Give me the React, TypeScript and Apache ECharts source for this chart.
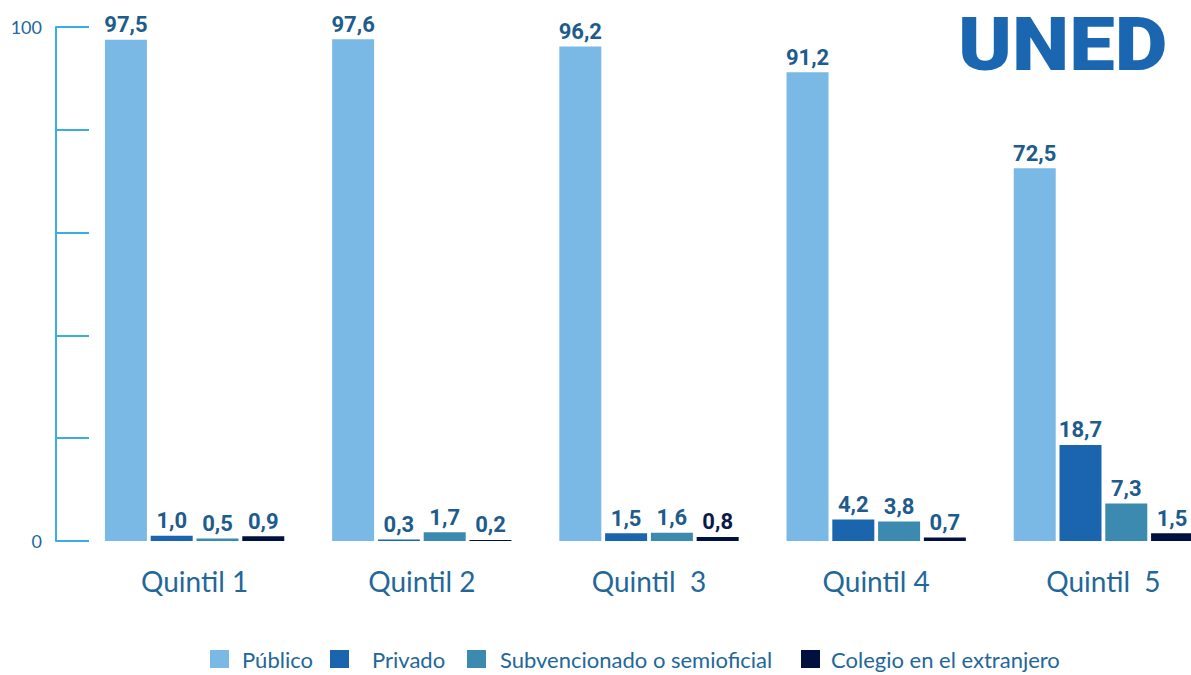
import React, { useEffect, useRef } from "react";
import * as echarts from "echarts";

const categories = ["Quintil 1", "Quintil 2", "Quintil  3", "Quintil 4", "Quintil  5"];
const seriesNames = ["Público", "Privado", "Subvencionado o semioficial", "Colegio en el extranjero"];
const publico = [97.5, 97.6, 96.2, 91.2, 72.5];
const privado = [1.0, 0.3, 1.5, 4.2, 18.7];
const subvencionado = [0.5, 1.7, 1.6, 3.8, 7.3];
const extranjero = [0.9, 0.2, 0.8, 0.7, 1.5];

const colors = ["#7ab9e5", "#1a65ae", "#3d8ab0", "#00113f"];
const labelColor = "#1d5c8c";
const textColor = "#23679a";

export default function App() {
  const ref = useRef<HTMLDivElement>(null);
  useEffect(() => {
    if (!ref.current) return;
    const chart = echarts.init(ref.current, undefined, { renderer: "svg" });
    const allValues = [publico, privado, subvencionado, extranjero];
    const fmt = (p: any) => Number(p.value).toFixed(1).replace(".", ",");
    const series = allValues.map((vals, si) => ({
      name: seriesNames[si],
      type: "bar",
      barWidth: 42,
      barGap: "9%",
      itemStyle: { color: colors[si] },
      data: vals.map((v, ci) =>
        si === 3 && ci === 2
          ? { value: v, label: { color: "#0b1a48" } }
          : v
      ),
      label: {
        show: true,
        position: "top",
        distance: 4,
        formatter: fmt,
        fontFamily: "Roboto",
        fontWeight: "bold",
        fontSize: 22,
        color: labelColor,
      },
    }));
    const legendLefts = [210, 330, 467, 801];
    const legendPads = [8, 18, 9, 6];
    chart.setOption({
      animation: false,
      grid: { left: 81, right: 13, top: 27, bottom: 134 },
      xAxis: {
        type: "category",
        data: categories,
        axisLine: { show: false },
        axisTick: { show: false },
        axisLabel: {
          margin: 26,
          fontFamily: "Lato",
          fontSize: 28,
          color: textColor,
        },
      },
      yAxis: {
        type: "value",
        min: 0,
        max: 100,
        interval: 20,
        offset: 25,
        axisLine: { show: true, lineStyle: { color: "#3aaee0", width: 2 } },
        axisTick: { show: true, inside: true, length: 33, lineStyle: { color: "#3aaee0", width: 2 } },
        splitLine: { show: false },
        axisLabel: {
          margin: 14,
          fontFamily: "Lato",
          fontSize: 18,
          color: textColor,
          formatter: (v: number) => (v === 0 || v === 100 ? String(v) : ""),
        },
      },
      legend: seriesNames.map((n, i) => ({
        data: [n],
        left: legendLefts[i],
        top: 648,
        itemWidth: 19,
        itemHeight: 18,
        padding: 0,
        icon: "rect",
        textStyle: {
          fontFamily: "Lato",
          fontSize: 22,
          color: textColor,
          padding: [0, 0, 0, legendPads[i]],
        },
      })),
      graphic: [
        {
          type: "text",
          left: 958,
          top: 8,
          style: {
            text: "UNED",
            fontFamily: "Roboto",
            fontWeight: 900,
            fontSize: 74,
            fill: "#1a66b0",
          },
          scaleX: 1.1,
        },
      ],
      series,
    });
    return () => chart.dispose();
  }, []);
  return (
    <div style={{ position: "fixed", left: 0, top: 0, width: 1191, height: 675, overflow: "hidden", background: "#fff" }}>
      <div ref={ref} style={{ position: "absolute", left: 0, top: 0, width: 1230, height: 675 }} />
    </div>
  );
}
